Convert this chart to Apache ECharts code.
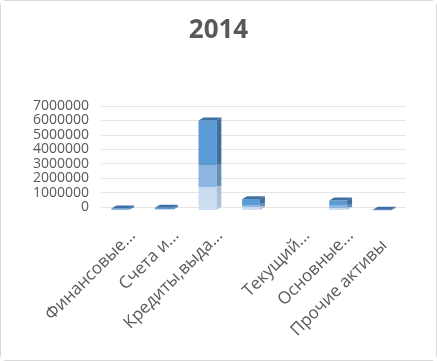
<!DOCTYPE html>
<html><head><meta charset="utf-8">
<script src="https://cdn.jsdelivr.net/npm/echarts@6/dist/echarts.min.js"></script>
<style>
html,body{margin:0;padding:0;background:#fff;}
#c{position:absolute;left:0;top:0;width:435px;height:359px;border:1px solid #d9d9d9;border-radius:6px;}
</style></head><body><div id="c"></div>
<script>
var categories = ['Финансовые...', 'Счета и...', 'Кредиты,выда...', '', 'Текущий...', 'Основные...', 'Прочие активы'];
var values = [100000, 150000, 6200000, 750000, null, 650000, 20000];
var yTicks = [0, 1000000, 2000000, 3000000, 4000000, 5000000, 6000000, 7000000];
var titleText = '2014';

var chart = echarts.init(document.getElementById('c'));
var grey = '#595959';
function renderBar(params, api) {
  var v = api.value(1);
  if (v === null || v === undefined || isNaN(v)) return;
  var idx = api.value(0);
  var base = api.coord([idx, 0]);
  var top = api.coord([idx, v]);
  var band = api.size([1, 0])[0];
  var w = band * 0.41, dx = 5, dy = 3;
  var cx = base[0] - dx / 2;
  var xl = cx - w / 2, xr = cx + w / 2, yb = base[1] + dy, yt = top[1] + dy;
  var frontGrad = {type:'linear', x:0, y:0, x2:0, y2:1, colorStops:[
    {offset:0,color:'#5b9bd5'},{offset:0.5,color:'#5b9bd5'},{offset:0.5,color:'#8db5e1'},
    {offset:0.74,color:'#8db5e1'},{offset:0.74,color:'#c5d9ef'},{offset:1,color:'#cfe0f2'}]};
  var sideGrad = {type:'linear', x:0, y:0, x2:0, y2:1, colorStops:[
    {offset:0,color:'#3f6f9f'},{offset:0.5,color:'#3f6f9f'},{offset:0.5,color:'#6a8fb7'},
    {offset:0.74,color:'#6a8fb7'},{offset:0.74,color:'#a9bcd0'},{offset:1,color:'#b3c5d8'}]};
  var h = Math.max(yb - yt, 1);
  return {type:'group', children:[
    {type:'polygon', shape:{points:[[xr,yt],[xr+dx,yt-dy],[xr+dx,yt-dy+h],[xr,yt+h]]}, style:{fill:sideGrad}},
    {type:'rect', shape:{x:xl, y:yt, width:w, height:h}, style:{fill:frontGrad}},
    {type:'polygon', shape:{points:[[xl,yt],[xl+dx,yt-dy],[xr+dx,yt-dy],[xr,yt]]}, style:{fill:'#3e70a6'}}
  ]};
}
chart.setOption({
  animation:false,
  backgroundColor:'#fff',
  title:{text:titleText, left:'center', top:12, textStyle:{fontFamily:'Open Sans', fontSize:26, fontWeight:'bold', color:grey}},
  grid:[{left:100, right:30, top:105, bottom:153},{left:110, right:20, top:105, bottom:153}],
  xAxis:[
    {type:'category', gridIndex:0, data:categories, axisLine:{show:false}, axisTick:{show:false}, axisLabel:{show:false}},
    {type:'category', gridIndex:1, data:categories, axisLine:{show:false}, axisTick:{show:false},
     axisLabel:{rotate:45, interval:0, margin:26, fontFamily:'Open Sans', fontSize:17, color:grey,
       formatter:function(v, i){ return i === categories.length - 1 ? '{last|' + v + '}' : v; },
       rich:{last:{fontFamily:'Open Sans', fontSize:17, color:grey, padding:[0,14,0,0]}}}}
  ],
  yAxis:[
    {type:'value', gridIndex:0, min:0, max:7000000, interval:1000000, axisLine:{show:false}, axisTick:{show:false},
     splitLine:{lineStyle:{color:'#e6e6e6'}},
     axisLabel:{margin:12, fontFamily:'Open Sans', fontSize:14, color:grey, formatter:function(v){return String(v);}}},
    {type:'value', gridIndex:1, min:0, max:7000000, show:false}
  ],
  series:[{type:'custom', xAxisIndex:0, yAxisIndex:0, renderItem:renderBar,
    data:values.map(function(v,i){return [i, v];}), encode:{x:0, y:1}}]
});
</script></body></html>
